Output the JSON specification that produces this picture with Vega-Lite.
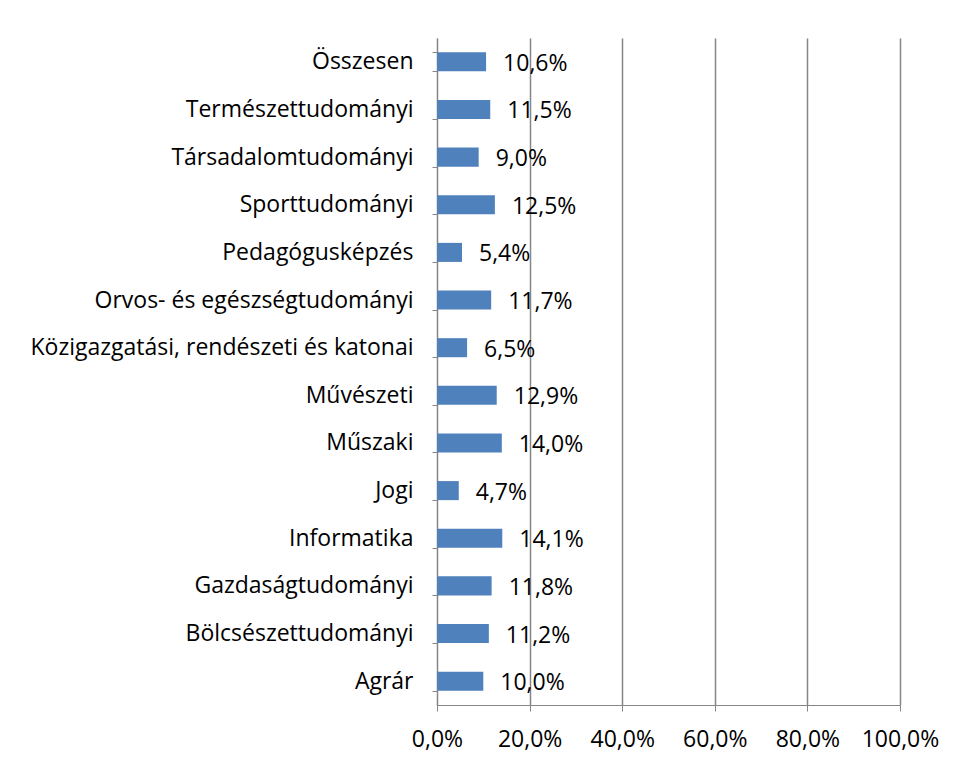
{
  "$schema": "https://vega.github.io/schema/vega-lite/v6.json",
  "autosize": "none",
  "width": 463,
  "height": 667,
  "padding": {"left": 437, "top": 38, "right": 57, "bottom": 62},
  "background": "white",
  "config": {
    "locale": {"number": {"decimal": ",", "thousands": " ", "grouping": [3], "currency": ["", " Ft"]}},
    "view": {"stroke": null},
    "font": "Open Sans"
  },
  "data": {"values": [
    {"cat": "Összesen ", "v": 0.106},
    {"cat": "Természettudományi", "v": 0.115},
    {"cat": "Társadalomtudományi", "v": 0.090},
    {"cat": "Sporttudományi", "v": 0.125},
    {"cat": "Pedagógusképzés", "v": 0.054},
    {"cat": "Orvos- és egészségtudományi", "v": 0.117},
    {"cat": "Közigazgatási, rendészeti és katonai", "v": 0.065},
    {"cat": "Művészeti", "v": 0.129},
    {"cat": "Műszaki", "v": 0.140},
    {"cat": "Jogi", "v": 0.047},
    {"cat": "Informatika", "v": 0.141},
    {"cat": "Gazdaságtudományi", "v": 0.118},
    {"cat": "Bölcsészettudományi", "v": 0.112},
    {"cat": "Agrár", "v": 0.100}
  ]},
  "encoding": {
    "y": {
      "field": "cat", "type": "nominal", "sort": null, "title": null,
      "scale": {"paddingInner": 0.6, "paddingOuter": 0.3},
      "axis": {
        "tickBand": "extent", "tickSize": 5, "tickColor": "#868686", "domainColor": "#868686",
        "labelFontSize": 23, "labelColor": "#000000", "labelPadding": 19, "labelFont": "Open Sans", "labelLimit": 500
      }
    }
  },
  "layer": [
    {
      "mark": {"type": "bar", "color": "#4F81BD"},
      "encoding": {
        "x": {
          "field": "v", "type": "quantitative", "title": null,
          "scale": {"domain": [0, 1], "nice": false},
          "axis": {
            "values": [0, 0.2, 0.4, 0.6, 0.8, 1], "format": ".1%",
            "grid": true, "gridColor": "#868686", "gridWidth": 1.5, "gridOpacity": 1,
            "tickSize": 6, "tickColor": "#868686", "domainColor": "#868686",
            "labelFontSize": 23, "labelColor": "#000000", "labelPadding": 17, "labelFont": "Open Sans",
            "labelFlush": false
          }
        }
      }
    },
    {
      "mark": {"type": "text", "align": "left", "baseline": "middle", "dx": 17, "dy": 2, "fontSize": 23, "color": "#000000", "font": "Open Sans"},
      "encoding": {
        "x": {"field": "v", "type": "quantitative"},
        "text": {"field": "v", "type": "quantitative", "format": ".1%"}
      }
    }
  ]
}
